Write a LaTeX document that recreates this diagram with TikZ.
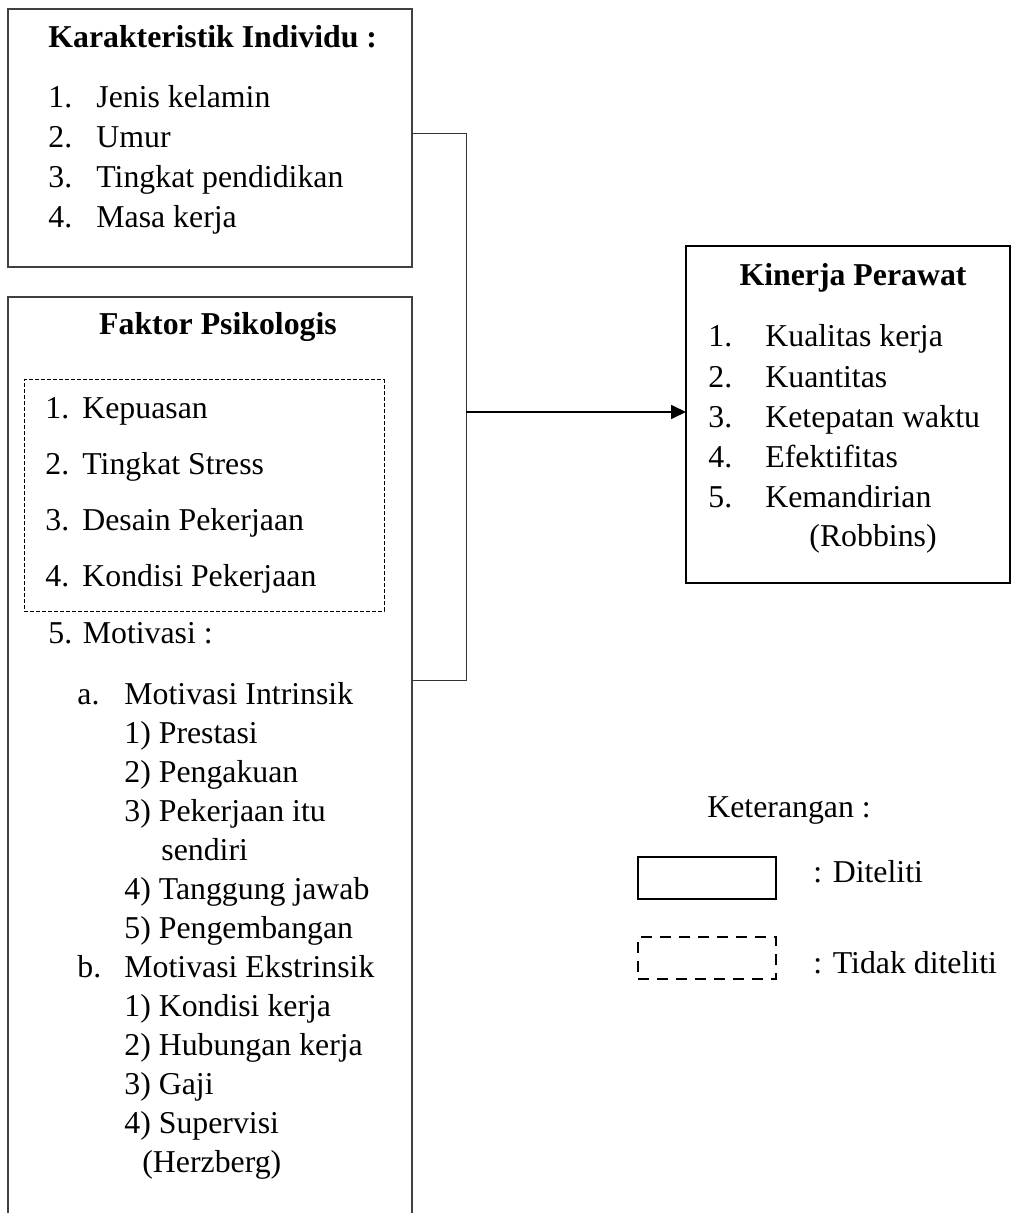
\documentclass[tikz,border=0pt]{standalone}
\usepackage{fontspec}
\setmainfont{Liberation Serif}
\usetikzlibrary{arrows.meta,positioning}

\begin{document}
\begin{tikzpicture}[
  x=0.5pt, y=-0.5pt,
  font=\fontsize{15.9}{19.5}\selectfont,
  box/.style={
    draw=black!75,
    line width=0.6pt,
    anchor=north west,
    inner sep=0pt,
    outer sep=0pt
  },
  boxbold/.style={box, draw=black, line width=1pt},
  dashbox/.style={box, draw=black, line width=0.5pt, dash pattern=on 2pt off 1pt},
  legdash/.style={box, draw=black, line width=1pt, dash pattern=on 5.5pt off 4pt},
  txt/.style={anchor=base west, inner sep=0pt},
  head/.style={anchor=base, inner sep=0pt, font=\fontsize{15.9}{19.5}\selectfont\bfseries},
  line/.style={draw=black!80, line width=0.5pt},
  arrow/.style={-{Triangle[length=7.5pt,width=7pt]}, line width=0.85pt}
]
\useasboundingbox (0,0) rectangle (1012,1213);

% Karakteristik Individu
\node[box, minimum width=202pt, minimum height=129pt] (ki) at (8,9) {};
\node[txt, font=\fontsize{15.9}{19.5}\selectfont\bfseries] (kihead) at (48,48) {Karakteristik Individu :};
\foreach \t [count=\i] in {Jenis kelamin, Umur, Tingkat pendidikan, Masa kerja}{
  \node[txt] (kin\i) at (48,{68+40*\i}) {\i.};
  \node[txt] (kit\i) at (96,{68+40*\i}) {\t};
}

% Faktor Psikologis
\node[box, minimum width=202pt, minimum height=472pt] (fp) at (8,297) {};
\node[head] (fphead) at (218,335) {Faktor Psikologis};
\node[dashbox, minimum width=180pt, minimum height=115.5pt] (nd) at (24,380) {};
\foreach \t [count=\i] in {Kepuasan, Tingkat Stress, Desain Pekerjaan, Kondisi Pekerjaan}{
  \node[txt] (ndn\i) at (45,{362+56*\i}) {\i.};
  \node[txt] (ndt\i) at (82,{362+56*\i}) {\t};
}
\node[txt] (mot) at (48,643) {5. Motivasi :};
\node[txt] (mota) at (77,704) {a.};
\node[txt] (motat) at (124,704) {Motivasi Intrinsik};
\node[txt] (ma1) at (124,743) {1) Prestasi};
\node[txt] (ma2) at (124,782) {2) Pengakuan};
\node[txt] (ma3) at (124,821) {3) Pekerjaan itu};
\node[txt] (ma3b) at (161,860) {sendiri};
\node[txt] (ma4) at (124,899) {4) Tanggung jawab};
\node[txt] (ma5) at (124,938) {5) Pengembangan};
\node[txt] (motb) at (77,977) {b.};
\node[txt] (motbt) at (124,977) {Motivasi Ekstrinsik};
\node[txt] (mb1) at (124,1016) {1) Kondisi kerja};
\node[txt] (mb2) at (124,1055) {2) Hubungan kerja};
\node[txt] (mb3) at (124,1094) {3) Gaji};
\node[txt] (mb4) at (124,1133) {4) Supervisi};
\node[txt] (herz) at (142,1172) {(Herzberg)};

% Kinerja Perawat
\node[boxbold, minimum width=162pt, minimum height=168.5pt] (kp) at (686,246) {};
\node[head] (kphead) at (853,286) {Kinerja Perawat};
\foreach \t [count=\i] in {Kualitas kerja, Kuantitas, Ketepatan waktu, Efektifitas, Kemandirian}{
  \node[txt] (kpn\i) at (708,{307+40*\i}) {\i.};
  \node[txt] (kpt\i) at (765,{307+40*\i}) {\t};
}
\node[txt] (robb) at (809,546) {(Robbins)};

% connectors
\coordinate (jn) at (466,412);
\coordinate (fpout) at (412,680);
\draw[line] ([yshift=2pt]ki.east) -| (jn);
\draw[line] (fpout) -| (jn);
\draw[arrow] (jn) -- (jn -| kp.west);

% Keterangan
\node[txt] (ket) at (707,817) {Keterangan :};
\node[boxbold, minimum width=69pt, minimum height=21pt] (legsolid) at (638,857) {};
\node[legdash, minimum width=69pt, minimum height=21pt] (legdashed) at (638,937) {};
\node[txt] (legsolidt) at (813,882) {: Diteliti};
\node[txt] (legdashedt) at (813,973) {: Tidak diteliti};

\end{tikzpicture}
\end{document}
